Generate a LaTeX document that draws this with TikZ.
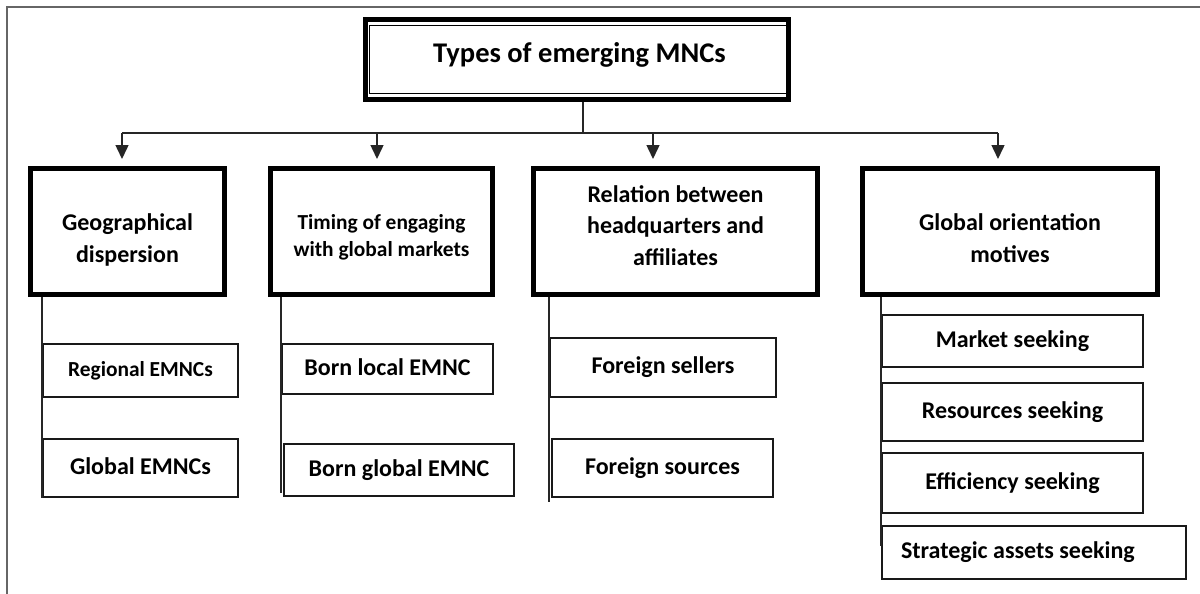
\documentclass[tikz,border=0pt]{standalone}
\usepackage{fontspec}
\setmainfont{Carlito}
\usetikzlibrary{arrows.meta}
\begin{document}
\begin{tikzpicture}[x=1pt,y=-1pt,
  frame/.style={draw=black!60, line width=1.5pt},
  conn/.style={draw=black!85, line width=1.5pt},
  arr/.style={conn, -{Triangle[length=14pt,width=13pt]}},
  mainbox/.style={draw=black, line width=5pt, inner sep=0pt},
  maintext/.style={align=center, font=\bfseries\fontsize{24}{31.5}\selectfont},
  childbox/.style={draw=black!90, line width=2pt, inner sep=0pt,
    text height=16.8pt, text depth=4.8pt, font=\bfseries\fontsize{24}{28}\selectfont},
  small/.style={font=\bfseries\fontsize{21.4}{26}\selectfont}
]
\useasboundingbox (0,0) rectangle (1200,594);
% outer frame
\draw[frame] (7,600) -- (7,7) -- (1205,7);

% title
\node[mainbox, minimum width=423pt, minimum height=80pt] (title) at (577,59.5) {};
\draw[line width=1.3pt] ([xshift=6.5pt,yshift=-8.5pt]title.north west) rectangle ([xshift=-3.5pt,yshift=8.5pt]title.south east);
\node[anchor=base, font=\bfseries\fontsize{28.5}{34}\selectfont] (titletext) at (579.5,63) {Types of emerging MNCs};

% main category boxes
\node[mainbox, minimum width=194pt, minimum height=126pt] (b1) at (127.5,231.5) {};
\node[mainbox, minimum width=222pt, minimum height=126pt] (b2) at (381.5,231.5) {};
\node[mainbox, minimum width=284pt, minimum height=126pt] (b3) at (675.5,231.5) {};
\node[mainbox, minimum width=295pt, minimum height=126pt] (b4) at (1010,231.5) {};
\node[maintext] (b1t) at (127.5,240) {Geographical\\dispersion};
\node[maintext, font=\bfseries\fontsize{21.4}{27.5}\selectfont] (b2t) at (381.5,237.5) {Timing of engaging\\with global markets};
\node[maintext] (b3t) at (675.5,225.5) {Relation between\\headquarters and\\affiliates};
\node[maintext] (b4t) at (1010,238) {Global orientation\\motives};

% connectors from title
\coordinate (bus) at (583,133);
\coordinate (t1) at (122,159);
\coordinate (t2) at (377,159);
\coordinate (t3) at (653,159);
\coordinate (t4) at (998,159);
\draw[conn] (title.south -| bus) -- (bus);
\draw[conn] (bus -| t1) -- (bus -| t4);
\draw[arr] (bus -| t1) -- (t1);
\draw[arr] (bus -| t2) -- (t2);
\draw[arr] (bus -| t3) -- (t3);
\draw[arr] (bus -| t4) -- (t4);

% child boxes
\node[childbox, small, minimum width=195pt, minimum height=53pt] (reg) at (140.5,370.5) {Regional EMNCs};
\node[childbox, minimum width=195pt, minimum height=58pt] (glob) at (140.5,468) {Global EMNCs};
\node[childbox, minimum width=211pt, minimum height=50pt] (loc) at (387.5,369) {Born local EMNC};
\node[childbox, minimum width=230pt, minimum height=52pt] (glo) at (399,470) {Born global EMNC};
\node[childbox, minimum width=226pt, minimum height=59pt] (sel) at (663,367.5) {Foreign sellers};
\node[childbox, minimum width=221pt, minimum height=58pt] (src) at (662.5,468) {Foreign sources};
\node[childbox, minimum width=261pt, minimum height=52pt] (mkt) at (1012.5,341) {Market seeking};
\node[childbox, minimum width=261pt, minimum height=58pt] (res) at (1012.5,412) {Resources seeking};
\node[childbox, minimum width=261pt, minimum height=60pt] (eff) at (1012.5,483) {Efficiency seeking};
\node[childbox, inner xsep=19pt, minimum height=53pt] (sa) at (1034,552.5) {\makebox[266pt][l]{Strategic assets seeking}};

% child connectors
\draw[conn] (b1.south -| reg.west) -- (glob.south west);
\draw[conn] (b2.south -| loc.west) -- ([yshift=4pt]loc.west |- glo.south);
\draw[conn] (b3.south -| sel.west) -- ([yshift=-4pt]sel.west |- src.south);
\draw[conn] (b4.south -| mkt.west) -- ([yshift=7pt]mkt.west |- sa.center);
\end{tikzpicture}
\end{document}
